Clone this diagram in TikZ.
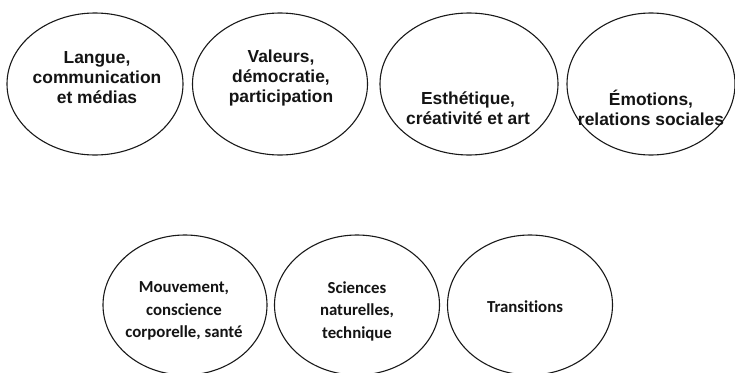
\documentclass[tikz,border=0pt]{standalone}
\usepackage{fontspec}
\setmainfont{Liberation Sans}
\newfontfamily\calfont[Ligatures=NoCommon]{Carlito}
\usetikzlibrary{shapes.geometric}
\begin{document}
\begin{tikzpicture}[x=1pt,y=-1pt,
  oval/.style={draw=black!90, ellipse, line width=1.1pt, inner sep=0pt},
  topoval/.style={oval, minimum width=176pt, minimum height=142pt},
  botoval/.style={oval, minimum width=164pt, minimum height=140pt},
  toptext/.style={font=\fontsize{17.4}{20}\selectfont\bfseries, align=center, text=black!92, inner sep=0pt},
  bottext/.style={font=\calfont\fontsize{16.8}{22.5}\selectfont\bfseries, align=center, text=black!92, inner sep=0pt}]
\useasboundingbox (0,0) rectangle (735,372);
\fill[white] (0,0) rectangle (735,372);
% top row
\node[topoval] (e1) at (95,84) {};
\node[topoval, minimum width=175pt] (e2) at (280,84) {};
\node[topoval, minimum width=178pt] (e3) at (469,84) {};
\node[topoval, minimum width=168pt] (e4) at (651,84) {};
\node[toptext] (t1) at (97,78) {Langue,\\communication\\et médias};
\node[toptext] (t2) at (281,78) {Valeurs,\\démocratie,\\participation};
\node[toptext] (t3) at (468,108) {Esthétique,\\créativité et art};
\node[toptext] (t4) at (651,108) {Émotions,\\relations sociales};
% bottom row
\node[botoval] (e5) at (185,305) {};
\node[botoval, minimum width=165pt] (e6) at (357,305) {};
\node[botoval, minimum width=165pt] (e7) at (530,305) {};
\node[bottext] (t5) at (184,311) {Mouvement,\\conscience\\corporelle, santé};
\node[bottext] (t6) at (357,311) {Sciences\\naturelles,\\technique};
\node[bottext] (t7) at (525,307) {Transitions};
\end{tikzpicture}
\end{document}
